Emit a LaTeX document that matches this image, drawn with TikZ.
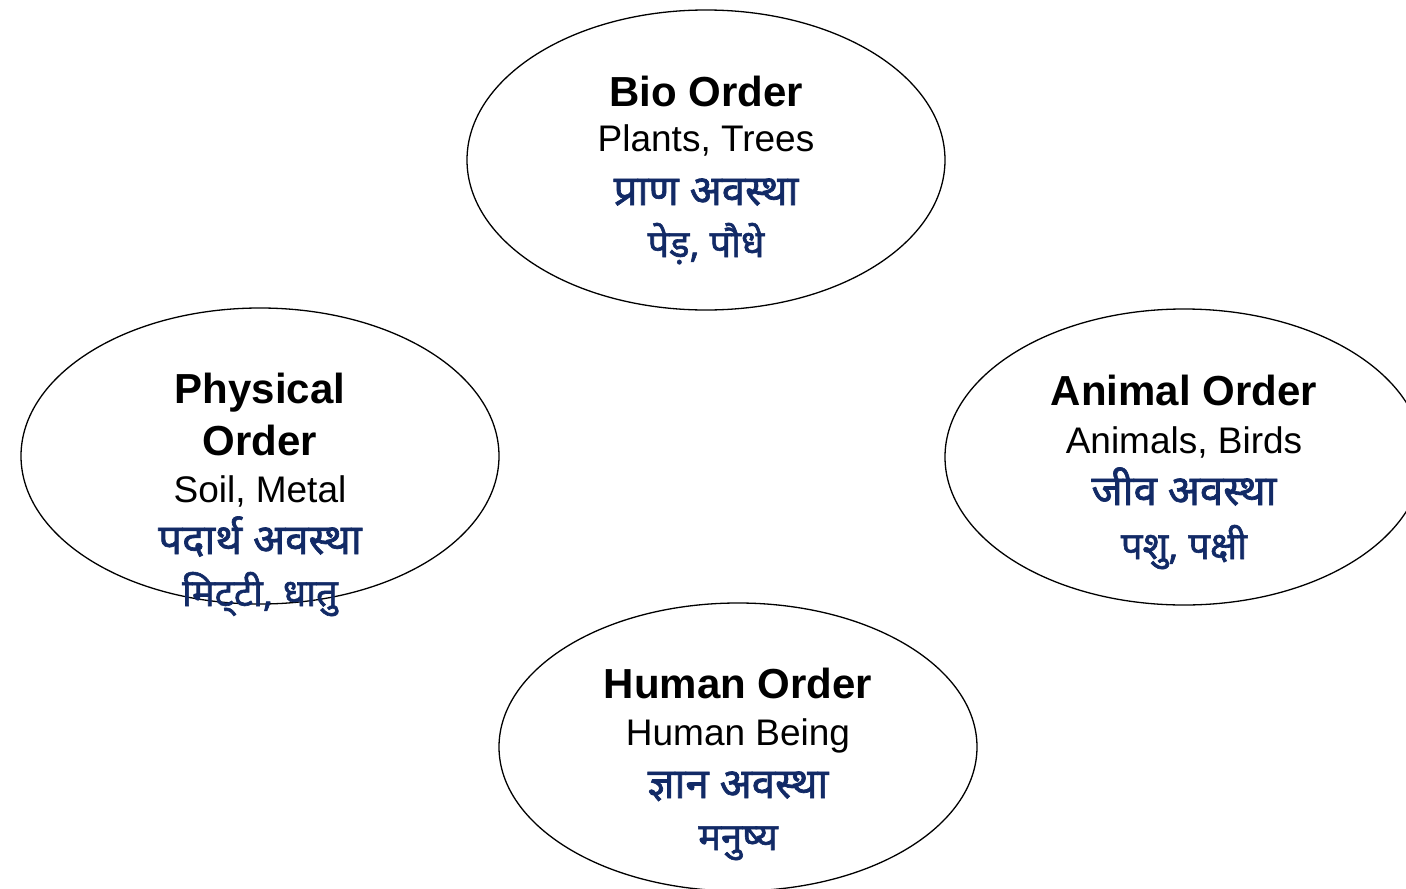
\documentclass[tikz,border=0pt]{standalone}
\usepackage{fontspec}
\setmainfont{Liberation Sans}
\newfontfamily\hindi[Script=Devanagari, FakeBold=1.6]{Noto Sans}
\usetikzlibrary{shapes.geometric}
\definecolor{hindiblue}{RGB}{18,42,102}

\tikzset{
  orb/.style={draw, ellipse, line width=1.3pt, minimum width=478pt, minimum height=296pt, inner sep=0pt},
  ttl/.style={anchor=base, font=\fontsize{42}{46}\selectfont\bfseries},
  eng/.style={anchor=base, font=\fontsize{37}{42}\selectfont},
  hin/.style={anchor=base, text=hindiblue, font=\hindi\fontsize{42}{46}\selectfont},
  hinsm/.style={anchor=base, text=hindiblue, font=\hindi\fontsize{38}{42}\selectfont}
}

\begin{document}
\begin{tikzpicture}[x=1pt,y=-1pt]
\useasboundingbox (0,0) rectangle (1406,889);
\clip (0,0) rectangle (1406,889);

%the four orders
\node[orb, minimum height=300pt] (bio) at (706,160) {};
\node[orb] (phys) at (260,456) {};
\node[orb] (anim) at (1184,457) {};
\node[orb, minimum height=288pt] (hum) at (738,747) {};

%Bio Order
\node[ttl] (bioT) at ([yshift=54pt]bio.center) {Bio Order};
\node[eng] (bioE) at ([yshift=9pt]bio.center) {Plants, Trees};
\node[hin] (bioH) at ([yshift=-45pt]bio.center) {प्राण अवस्था};
\node[hinsm] (bioD) at ([yshift=-97pt]bio.center) {पेड़, पौधे};

%Physical Order
\node[ttl] (physT) at ([yshift=53pt]phys.center) {Physical};
\node[ttl] (physO) at ([yshift=1pt]phys.center) {Order};
\node[eng] (physE) at ([yshift=-46pt]phys.center) {Soil, Metal};
\node[hin] (physH) at ([yshift=-98pt]phys.center) {पदार्थ अवस्था};
\node[hinsm] (physD) at ([yshift=-150pt]phys.center) {मिट्‌टी, धातु};

%Animal Order
\node[ttl] (animT) at ([yshift=52pt]anim.center) {Animal Order};
\node[eng] (animE) at ([yshift=4pt]anim.center) {Animals, Birds};
\node[hin] (animH) at ([yshift=-48pt]anim.center) {जीव अवस्था};
\node[hinsm] (animD) at ([yshift=-102pt]anim.center) {पशु, पक्षी};

%Human Order
\node[ttl] (humT) at ([yshift=49pt]hum.center) {Human Order};
\node[eng] (humE) at ([yshift=2pt]hum.center) {Human Being};
\node[hin] (humH) at ([yshift=-51pt]hum.center) {ज्ञान अवस्था};
\node[hinsm] (humD) at ([yshift=-103pt]hum.center) {मनुष्य};

\end{tikzpicture}
\end{document}
